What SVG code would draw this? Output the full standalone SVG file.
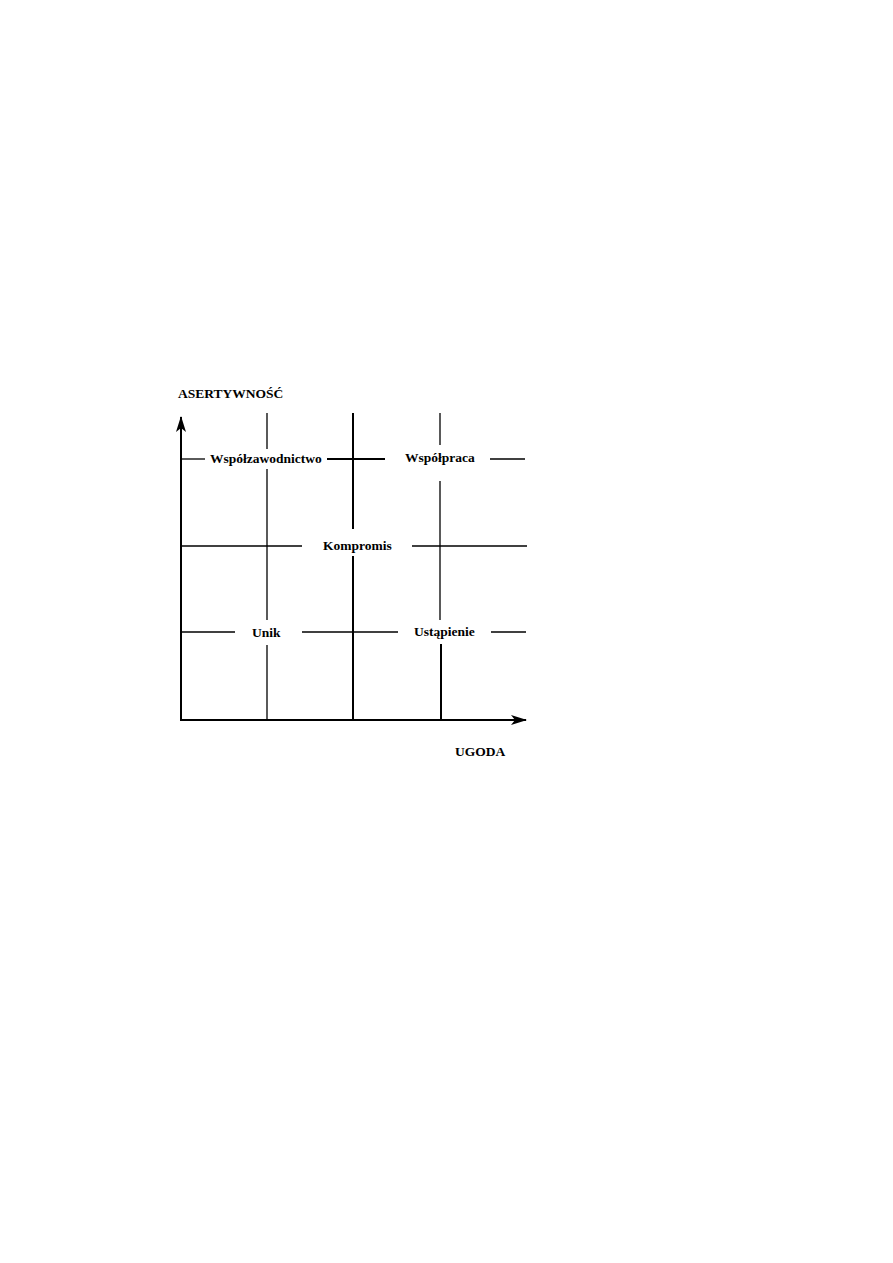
<svg xmlns="http://www.w3.org/2000/svg" width="893" height="1263" viewBox="0 0 893 1263">
<style>
.ln{stroke:#000;stroke-width:1.3;fill:none}
.ax{stroke:#000;stroke-width:2;fill:none}
.t{font-family:"Liberation Serif","Times New Roman",serif;font-weight:bold;font-size:13.5px;fill:#000}
</style>
<defs>
<marker id="ah" viewBox="0 0 16 10" refX="15" refY="5" markerWidth="16" markerHeight="10" markerUnits="userSpaceOnUse" orient="auto">
<path d="M0,0 L16,5 L0,10 L4,5 Z" fill="#000"/>
</marker>
</defs>
<rect width="893" height="1263" fill="#fff"/>
<g id="connectors">
<line class="ax" x1="181" y1="721" x2="181" y2="417" marker-end="url(#ah)"/>
<line class="ax" x1="180" y1="720" x2="526" y2="720" marker-end="url(#ah)"/>
<line class="ln" x1="267" y1="413" x2="267" y2="449"/>
<line class="ln" x1="267" y1="469" x2="267" y2="620"/>
<line class="ln" x1="267" y1="645" x2="267" y2="720"/>
<line class="ax" x1="353" y1="413" x2="353" y2="529"/>
<line class="ax" x1="353" y1="556" x2="353" y2="720"/>
<line class="ln" x1="440" y1="413" x2="440" y2="445"/>
<line class="ln" x1="440" y1="481" x2="440" y2="620"/>
<line class="ax" x1="441" y1="644" x2="441" y2="720"/>
<line class="ln" x1="181" y1="459" x2="205" y2="459"/>
<line class="ax" x1="327" y1="459" x2="385" y2="459"/>
<line class="ln" x1="490" y1="459" x2="525" y2="459"/>
<line class="ln" x1="181" y1="546" x2="302" y2="546"/>
<line class="ln" x1="412" y1="546" x2="527" y2="546"/>
<line class="ln" x1="181" y1="632" x2="235" y2="632"/>
<line class="ln" x1="302" y1="632" x2="398" y2="632"/>
<line class="ln" x1="491" y1="632" x2="526" y2="632"/>
</g>
<g id="axis-y-label"><text class="t" x="178" y="398">ASERTYWNOŚĆ</text></g>
<g id="axis-x-label"><text class="t" x="455" y="756">UGODA</text></g>
<g id="wspolzawodnictwo"><text class="t" x="210" y="463">Współzawodnictwo</text></g>
<g id="wspolpraca"><text class="t" x="405" y="462">Współpraca</text></g>
<g id="kompromis"><text class="t" x="323" y="550">Kompromis</text></g>
<g id="unik"><text class="t" x="252" y="637">Unik</text></g>
<g id="ustapienie"><text class="t" x="414" y="636">Ustąpienie</text></g>
</svg>
